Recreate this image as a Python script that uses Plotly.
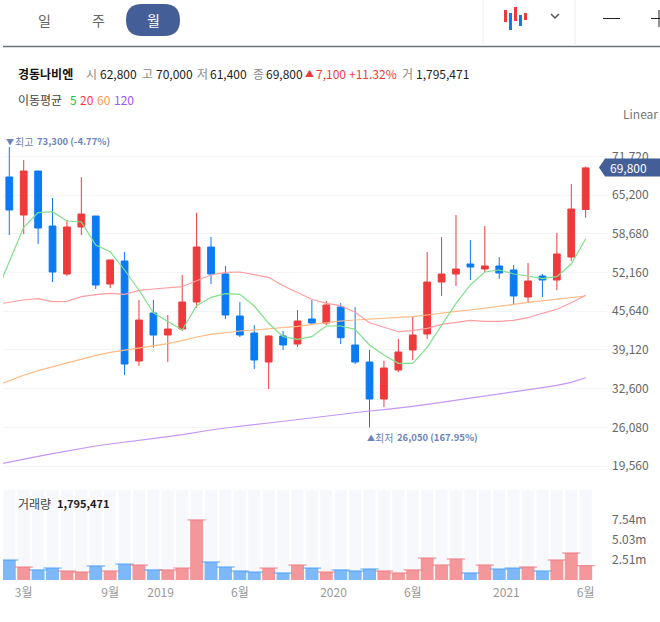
import plotly.graph_objects as go

W, H = 660, 622

# monthly candles, 2018-02 .. 2021-06
months = [f"{y}-{m:02d}" for y in range(2018, 2022) for m in range(1, 13)][1:42]
opens = [68266, 61863, 69277, 60009, 51921, 59840, 61694, 50236, 54112, 37262, 45350, 41643, 42654, 47203,
         56471, 51921, 44844, 41980, 37093, 41475, 40128, 44339, 43665, 46359, 39959, 37093, 30858, 35746,
         39116, 41812, 50573, 51921, 53607, 52764, 53270, 52596, 48045, 51584, 50910, 54787, 62800]
highs = [73300, 71130, 69277, 64727, 61020, 68215, 61694, 54281, 55628, 47540, 47540, 45013, 51753, 62250,
         58156, 53270, 47203, 43328, 41600, 42317, 45855, 47540, 47371, 47034, 46359, 39116, 37312, 40968,
         44676, 55628, 58156, 61863, 57651, 60009, 54787, 53439, 53776, 51921, 58830, 67086, 70000]
lows = [58493, 58660, 56976, 50573, 51584, 58493, 49394, 49562, 34902, 36420, 39503, 37093, 42317, 46192,
        50236, 44339, 41306, 35914, 32543, 39116, 39621, 43328, 43328, 40128, 36756, 26050, 29512, 35409,
        37430, 40968, 48214, 49899, 50910, 52258, 51079, 46696, 47203, 48045, 49225, 54112, 61400]
closes = [62705, 69277, 59672, 52258, 59840, 62031, 50068, 54281, 36756, 44170, 41643, 42654, 47203, 56471,
          51921, 45013, 41643, 37430, 41475, 39959, 44002, 43665, 46696, 41187, 37093, 30858, 36082, 38778,
          41643, 50573, 51921, 52764, 53101, 53270, 52090, 48214, 50742, 50910, 55291, 62874, 69800]

# moving averages start one month before the first candle and get clipped at the pane edge
ma5 = [48214, 54112, 59790, 62250, 62419, 60852, 60683, 56808, 55679, 52595, 49225, 45400, 43884, 42485, 46580,
       47995, 48602, 48501, 46529, 43614, 41356, 40918, 41356, 43159, 43159, 42603, 39958, 38273, 36874,
       36874, 39570, 43328, 46984, 50068, 52258, 52595, 51921, 51584, 51129, 51466, 53606, 57869]
ma20 = [46782, 47203, 47540, 47759, 47254, 47321, 48096, 48433, 48669, 48501, 49175, 49394, 49562, 49781, 50792,
        51753, 52208, 52258, 51803, 51365, 49950, 48770, 47658, 46984, 46580, 45468, 43715, 42940, 42199,
        42367, 42772, 43446, 43833, 44120, 43951, 43951, 44120, 44558, 45299, 45973, 47085, 48332]
ma60 = [32999, 33925, 34852, 35627, 36301, 36975, 37649, 38222, 38728, 39065, 39402, 39789, 40177, 40682, 41306,
        41761, 42098, 42317, 42485, 42654, 42873, 43109, 43446, 43783, 44002, 44170, 44288, 44389, 44507,
        44726, 45013, 45350, 45636, 45855, 46142, 46479, 46816, 47153, 47422, 47709, 47928, 48214]
ma120 = [19755, 20260, 20698, 21204, 21642, 22097, 22552, 22939, 23276, 23563, 23900, 24237, 24506, 24843, 25298,
         25635, 25972, 26309, 26528, 26815, 27101, 27371, 27775, 28045, 28331, 28550, 28837, 29056, 29292,
         29629, 29966, 30303, 30640, 31027, 31364, 31651, 32038, 32375, 32763, 33167, 33673, 34448]

# volume in millions
volumes = [2.51, 1.63, 1.26, 1.5, 1.13, 1.0, 1.76, 1.13, 2.0, 1.88, 1.26, 1.26, 1.5, 7.54, 2.26, 1.63, 1.13,
           1.0, 1.5, 0.88, 1.88, 1.5, 1.0, 1.26, 1.13, 1.38, 1.13, 0.88, 1.26, 2.76, 1.88, 2.64, 0.88, 1.88,
           1.38, 1.5, 1.63, 1.13, 2.51, 3.39, 1.795]
volume_pane_max = 11.3

price_ticks = [71720, 65200, 58680, 52160, 45640, 39120, 32600, 26080, 19560]
volume_ticks = [2.51, 5.03, 7.54]
volume_tick_labels = ["2.51m", "5.03m", "7.54m"]
# index of the month under each label; year labels sit half a slot left
date_tick_pos = [1, 7, 10.5, 16, 22.5, 28, 34.5, 40]
date_tick_labels = ["3월", "9월", "2019", "6월", "2020", "6월", "2021", "6월"]

FONT = "Noto Sans CJK KR"
RED, BLUE = "#ef3a3c", "#0b7bf3"
NAVY = "#445f97"
x_idx = list(range(len(months)))
x_ma = [-1] + x_idx


def px(x):
    return x / W


def py(y):
    return 1 - y / H


fig = go.Figure()

fig.add_trace(go.Candlestick(
    x=x_idx, open=opens, high=highs, low=lows, close=closes,
    increasing=dict(line=dict(color=RED, width=1), fillcolor=RED),
    decreasing=dict(line=dict(color=BLUE, width=1), fillcolor=BLUE),
    whiskerwidth=0, showlegend=False,
))

for vals, col in [(ma120, "#c596f7"), (ma60, "#ffba82"), (ma20, "#ff9da0"), (ma5, "#7fe08a")]:
    fig.add_trace(go.Scatter(x=x_ma, y=vals, mode="lines", line=dict(color=col, width=1.2), showlegend=False))

# volume pane: pale stripes, bars, darker top edge
vol_fill = ["#f4979b" if c >= o else "#7db8f9" for o, c in zip(opens, closes)]
vol_edge = ["#ee7b80" if c >= o else "#4ea0f6" for o, c in zip(opens, closes)]
fig.add_trace(go.Bar(x=x_idx, y=[volume_pane_max] * len(x_idx), width=0.83, marker=dict(color="#f7f8fc", line_width=0),
                     xaxis="x2", yaxis="y2", showlegend=False))
fig.add_trace(go.Bar(x=x_idx, y=volumes, width=0.9, marker=dict(color=vol_fill, line_width=0),
                     xaxis="x2", yaxis="y2", showlegend=False))
fig.add_trace(go.Scatter(x=x_idx, y=volumes, mode="markers", xaxis="x2", yaxis="y2", showlegend=False,
                         marker=dict(symbol="line-ew", size=13, color=vol_edge, line=dict(color=vol_edge, width=1))))


def label(x, y, text, color="#333", size=12, anchor="left"):
    if anchor == "left":
        x -= 1
    return dict(xref="paper", yref="paper", x=px(x), y=py(y), text=text, showarrow=False, xanchor=anchor,
                yanchor="middle", borderpad=0, font=dict(family=FONT, size=size, color=color))


GREY = "#8b8b8b"
DARK = "#222"
PEAK = "#6d84bb"
annotations = [
    label(44, 20, "일", "#666", 14, "center"),
    label(98, 20, "주", "#666", 14, "center"),
    label(153, 20, "월", "#fff", 14, "center"),
    label(18, 73.5, "<b>경동나비엔</b>", "#111", 12),
    label(86, 73.5, "시", GREY), label(100, 73.5, "62,800", DARK),
    label(142, 73.5, "고", GREY), label(156, 73.5, "70,000", DARK),
    label(197, 73.5, "저", GREY), label(210, 73.5, "61,400", DARK),
    label(253, 73.5, "종", GREY), label(266, 73.5, "69,800", DARK),
    label(305, 73.5, "▲", RED, 9), label(316, 73.5, "7,100", RED),
    label(349, 73.5, "+11.32%", RED),
    label(402, 73.5, "거", GREY), label(416, 73.5, "1,795,471", DARK),
    label(18, 100, "이동평균", "#444"),
    label(70, 100, "5", "#22c03c"), label(80, 100, "20", "#ff3344"),
    label(97, 100, "60", "#ff9955"), label(114, 100, "120", "#9955ff"),
    label(623, 114, "Linear", "#777"),
    label(6, 141, "▼", PEAK, 8), label(15, 141, "최고", PEAK, 10),
    label(37, 141, "<b>73,300 (-4.77%)</b>", PEAK, 9.5),
    label(367, 437, "▲", PEAK, 8), label(375, 437, "최저", PEAK, 10),
    label(397, 437, "<b>26,050 (167.95%)</b>", PEAK, 9.5),
    label(18, 503, "거래량", "#444"), label(57, 503, "<b>1,795,471</b>", "#222", 11),
    label(628, 167.5, "69,800", "#fff", 12, "center"),
]


def rect(x0, y0, x1, y1, color):
    return dict(type="rect", xref="paper", yref="paper", x0=px(x0), x1=px(x1), y0=py(y0), y1=py(y1),
                fillcolor=color, line_width=0, layer="above")


def seg(x0, y0, x1, y1, color, width=1):
    return dict(type="line", xref="paper", yref="paper", x0=px(x0), x1=px(x1), y0=py(y0), y1=py(y1),
                line=dict(color=color, width=width), layer="above")


def poly(points, color, closed=True):
    d = "M" + " L".join(f"{px(a):.5f},{py(b):.5f}" for a, b in points) + (" Z" if closed else "")
    style = dict(fillcolor=color, line_width=0) if closed else dict(line=dict(color=color, width=1.5))
    return dict(type="path", xref="paper", yref="paper", path=d, layer="above", **style)


# rounded pill behind the active period
r = 16
pill = dict(type="path", xref="paper", yref="paper", fillcolor=NAVY, line_width=0, layer="below",
            path=(f"M{px(126 + r):.5f},{py(4):.5f} L{px(180 - r):.5f},{py(4):.5f} "
                  f"Q{px(180):.5f},{py(4):.5f} {px(180):.5f},{py(20):.5f} "
                  f"Q{px(180):.5f},{py(36):.5f} {px(180 - r):.5f},{py(36):.5f} "
                  f"L{px(126 + r):.5f},{py(36):.5f} "
                  f"Q{px(126):.5f},{py(36):.5f} {px(126):.5f},{py(20):.5f} "
                  f"Q{px(126):.5f},{py(4):.5f} {px(126 + r):.5f},{py(4):.5f} Z"))

shapes = [
    pill,
    seg(3, 46.5, 660, 46.5, "#6b7178", 1.5),
    seg(483, 0, 483, 46, "#eeeeee"), seg(575, 0, 575, 46, "#eeeeee"),
    # candle icon
    rect(504, 10, 507, 22, RED), rect(509, 13, 512, 30, BLUE), rect(514, 7, 517, 21, RED),
    rect(519, 15, 522, 26, BLUE), rect(524, 13, 527, 20, RED),
    poly([(551, 14), (555, 18), (559, 14)], "#555", closed=False),
    seg(603, 18.5, 620, 18.5, "#222"), seg(651, 18.5, 660, 18.5, "#222"), seg(659, 10, 659, 27, "#222"),
    # last price tag
    poly([(599, 167.5), (605, 158.5), (660, 158.5), (660, 176.5), (605, 176.5)], NAVY),
]

x_range = [-0.437, 41.48]
tick_font = dict(family=FONT, size=12, color="#666")

fig.update_layout(
    width=W, height=H,
    autosize=False,
    margin=dict(l=0, r=0, t=0, b=0),
    paper_bgcolor="#fff", plot_bgcolor="#fff",
    barmode="overlay",
    boxgap=0.33,
    hovermode=False,
    font=dict(family=FONT),
    annotations=annotations,
    shapes=shapes,
    xaxis=dict(domain=[px(3), px(607)], range=x_range, anchor="y", showgrid=False, zeroline=False,
               showticklabels=False, rangeslider=dict(visible=False)),
    yaxis=dict(domain=[py(480), py(130)], range=[17210, 76185], side="right", tickvals=price_ticks,
               tickformat=",d", showgrid=True, gridcolor="#f2f4f7", gridwidth=1, zeroline=False,
               ticks="", ticklabelstandoff=4, tickfont=tick_font, anchor="x"),
    xaxis2=dict(domain=[px(3), px(607)], range=x_range, anchor="y2", showgrid=False, zeroline=False,
                tickvals=date_tick_pos, ticktext=date_tick_labels, ticks="", ticklabelstandoff=4,
                tickfont=dict(family=FONT, size=12, color="#999")),
    yaxis2=dict(domain=[py(580), py(490)], range=[0, volume_pane_max], side="right", tickvals=volume_ticks,
                ticktext=volume_tick_labels, showgrid=False, zeroline=False, ticks="", ticklabelstandoff=4,
                tickfont=tick_font, anchor="x2"),
)

# the page's default 8px body margin would push everything off the window
fig.write_html("out.html", config=dict(displayModeBar=False), post_script="document.body.style.margin='0';")
